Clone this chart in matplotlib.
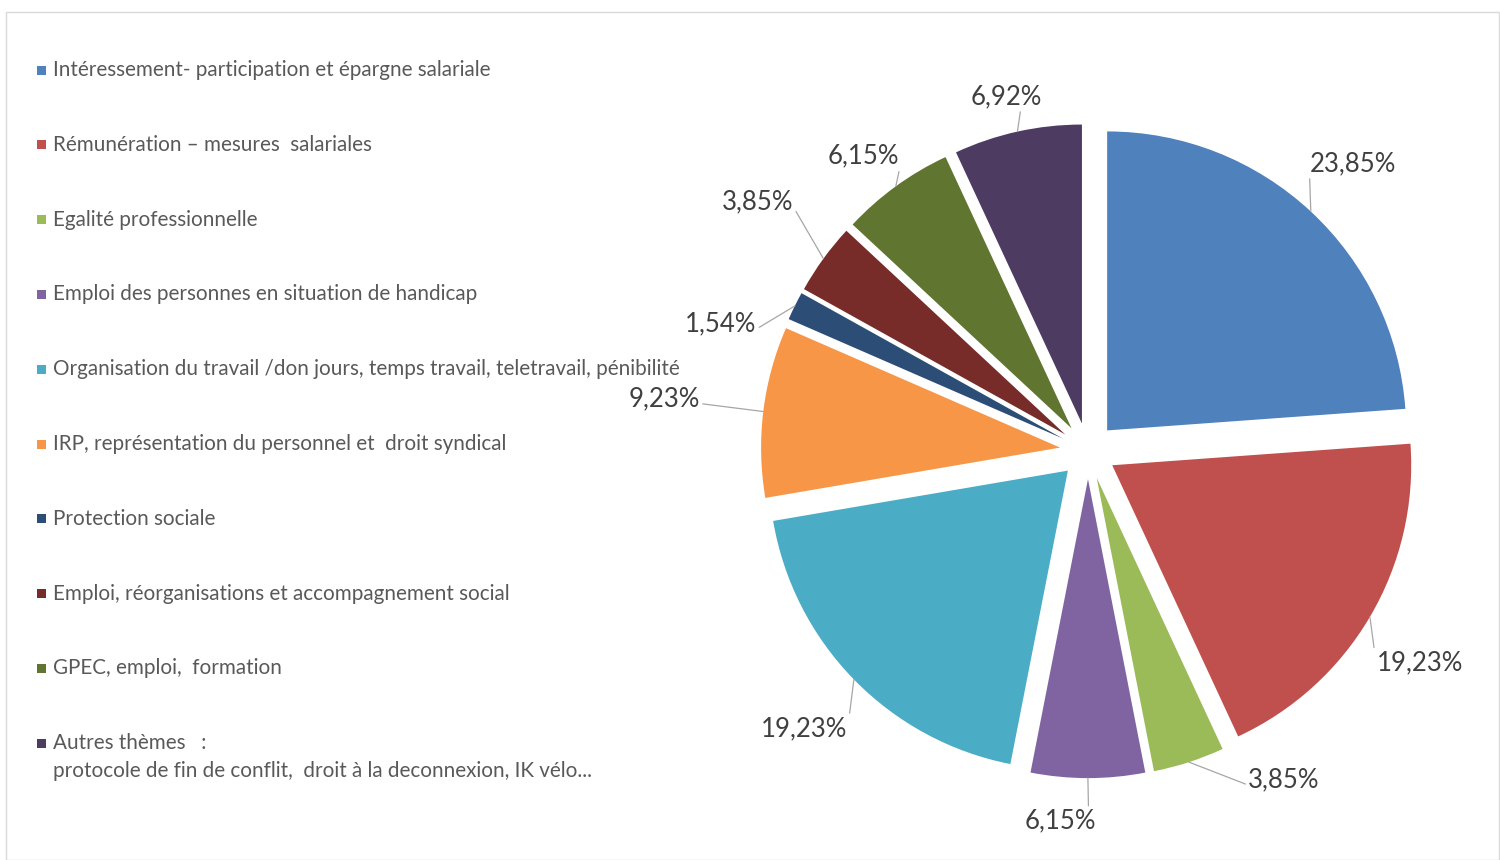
import matplotlib
matplotlib.use("Agg")
import matplotlib.pyplot as plt
from matplotlib.patches import Rectangle
import numpy as np

categories = [
    "Intéressement- participation et épargne salariale",
    "Rémunération – mesures  salariales",
    "Egalité professionnelle",
    "Emploi des personnes en situation de handicap",
    "Organisation du travail /don jours, temps travail, teletravail, pénibilité",
    "IRP, représentation du personnel et  droit syndical",
    "Protection sociale",
    "Emploi, réorganisations et accompagnement social",
    "GPEC, emploi,  formation",
    "Autres thèmes   :\nprotocole de fin de conflit,  droit à la deconnexion, IK vélo...",
]
values = [23.85, 19.23, 3.85, 6.15, 19.23, 9.23, 1.54, 3.85, 6.15, 6.92]
value_labels = ["23,85%", "19,23%", "3,85%", "6,15%", "19,23%",
                "9,23%", "1,54%", "3,85%", "6,15%", "6,92%"]
colors = ["#4F81BD", "#C0504D", "#9BBB59", "#8064A2", "#4BACC6",
          "#F79646", "#2C4D75", "#772C2A", "#5F7530", "#4D3B62"]

# styling: label offsets (pixels, x right / y up) from slice anchor, and leader attach point on text box
label_offsets = [(42, 48), (50, -46), (95, -18), (-28, -43), (-50, -49),
                 (-99, 13), (-74, -18), (-66, 57), (-32, 30), (-11, 35)]
label_relpos = [(0.0, 0.0), (0.0, 0.3), (0.0, 0.3), (0.9, 1.0), (1.0, 0.3),
                (1.0, 0.3), (1.0, 0.3), (1.0, 0.3), (1.0, 0.0), (0.7, 0.0)]

plt.rcParams['font.family'] = ['Lato', 'DejaVu Sans']

W, H = 1500, 860
fig = plt.figure(figsize=(W / 100, H / 100), dpi=100)
fig.patch.set_facecolor("white")

# outer chart border
fig.patches.append(Rectangle((6 / W, 0), (W - 7) / W, (H - 12) / H,
                             transform=fig.transFigure, fill=False,
                             edgecolor="#D9D9D9", linewidth=1.0))

# pie axes
R_px = 299
cx, cy = 1088, H - 451
half = 400
ax = fig.add_axes([(cx - half) / W, (cy - half) / H, 2 * half / W, 2 * half / H])
explode_amt = 0.094
wedges, _ = ax.pie(values, colors=colors, startangle=90, counterclock=False,
                   explode=[explode_amt] * len(values), radius=1.0,
                   wedgeprops=dict(linewidth=0))
lim = half / R_px
ax.set_xlim(-lim, lim)
ax.set_ylim(-lim, lim)
ax.set_aspect('equal')
ax.axis('off')

# labels with leader lines
for w, lab, off, rp in zip(wedges, value_labels, label_offsets, label_relpos):
    ang = np.deg2rad((w.theta1 + w.theta2) / 2.0)
    r = 1.0 + explode_amt
    anchor = (r * np.cos(ang), r * np.sin(ang))
    ax.annotate(lab, xy=anchor, xytext=off, textcoords='offset pixels',
                ha='center', va='center', fontsize=18.5, color="#404040",
                annotation_clip=False,
                arrowprops=dict(arrowstyle='-', color="#A6A6A6", lw=0.9,
                                shrinkA=0, shrinkB=0, relpos=rp))

# legend (manual, Excel-like)
leg_x_marker = 37
leg_x_text = 53
leg_y0 = 70
leg_dy = 74.8
msize = 9
for i, (cat, col) in enumerate(zip(categories, colors)):
    y = leg_y0 + i * leg_dy
    fig.patches.append(Rectangle((leg_x_marker / W, (H - y - msize / 2) / H), msize / W, msize / H,
                                 transform=fig.transFigure, facecolor=col, edgecolor='none'))
    lines = cat.split("\n")
    for j, line in enumerate(lines):
        fig.text(leg_x_text / W, (H - y - j * 28) / H, line, ha='left', va='center',
                 fontsize=14.9, color="#595959")

fig.savefig("out.png", dpi=100, facecolor="white")
